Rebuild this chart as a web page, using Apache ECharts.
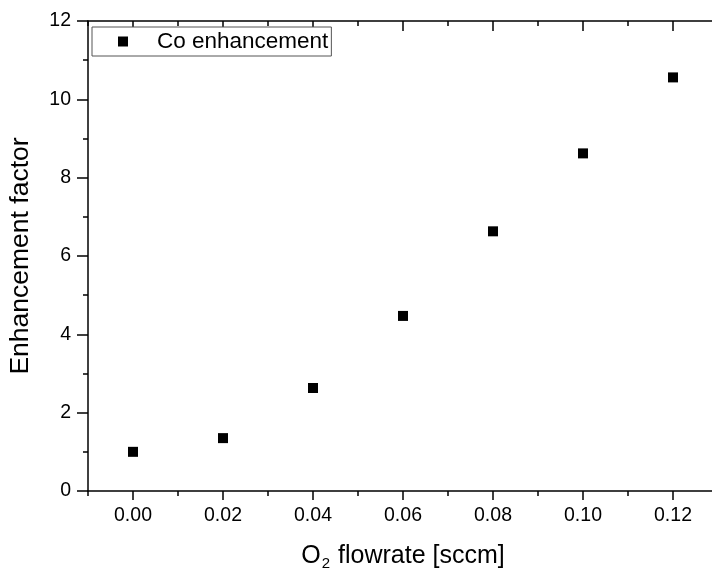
<!DOCTYPE html>
<html>
<head>
<meta charset="utf-8">
<script src="https://cdn.jsdelivr.net/npm/echarts@6/dist/echarts.min.js"></script>
<style>
html,body{margin:0;padding:0;background:#fff;}
#chart{width:712px;height:568px;}
</style>
</head>
<body>
<div id="chart"></div>
<script>
// Data
const flowrates = [0.00, 0.02, 0.04, 0.06, 0.08, 0.10, 0.12];
const enhancement = [1.00, 1.35, 2.63, 4.47, 6.63, 8.62, 10.56];
const xMajorTicks = [0.00, 0.02, 0.04, 0.06, 0.08, 0.10, 0.12];
const seriesName = 'Co enhancement';

const FONT = '"Liberation Sans", Arial, sans-serif';
const points = flowrates.map((x, i) => [x, enhancement[i]]);

const chart = echarts.init(document.getElementById('chart'), null, {renderer: 'canvas'});

const lineStyle = {color: '#000', width: 1.5};
const xBase = {
  type: 'value', gridIndex: 0, min: -0.01, max: 0.13,
  splitLine: {show: false}
};

chart.setOption({
  animation: false,
  backgroundColor: '#fff',
  grid: {left: 88, top: 21, right: -6, bottom: 77, containLabel: false, outerBoundsMode: 'none'},
  legend: {
    show: true,
    left: 92, top: 27,
    data: [seriesName],
    icon: 'rect', itemWidth: 10, itemHeight: 10,
    backgroundColor: '#fff',
    borderColor: '#555', borderWidth: 1, borderRadius: 0,
    padding: [3, 3, 3, 26],
    formatter: function (n) { return '{a|' + n + '}'; },
    textStyle: {
      fontFamily: FONT, fontSize: 22.5, color: '#000',
      rich: {a: {fontFamily: FONT, fontSize: 22.5, color: '#000', padding: [0, 0, 0, 24]}}
    },
    z: 10
  },
  xAxis: [
    Object.assign({}, xBase, {
      position: 'bottom', interval: 0.01,
      axisLine: {show: true, onZero: false, lineStyle: lineStyle},
      axisTick: {show: true, inside: false, length: 5, lineStyle: lineStyle},
      axisLabel: {
        show: true, customValues: xMajorTicks, margin: 15,
        fontFamily: FONT, fontSize: 19.5, color: '#000',
        formatter: v => v.toFixed(2)
      },
      name: '{a|O}{b|2}{a| flowrate [sccm]}',
      nameLocation: 'middle', nameGap: 50,
      nameTextStyle: {
        fontFamily: FONT, fontSize: 25, color: '#000',
        rich: {
          a: {fontFamily: FONT, fontSize: 25, color: '#000'},
          b: {fontFamily: FONT, fontSize: 15, color: '#000', padding: [15, 1, 0, 1]}
        }
      }
    }),
    Object.assign({}, xBase, {
      position: 'bottom', interval: 0.01,
      axisLine: {show: false, onZero: false},
      axisTick: {show: true, inside: false, length: 9, customValues: xMajorTicks, lineStyle: lineStyle},
      axisLabel: {show: false}
    }),
    Object.assign({}, xBase, {
      position: 'top', interval: 0.01,
      axisLine: {show: true, onZero: false, lineStyle: lineStyle},
      axisTick: {show: true, inside: true, length: 5, lineStyle: lineStyle},
      axisLabel: {show: false}
    }),
    Object.assign({}, xBase, {
      position: 'top', interval: 0.01,
      axisLine: {show: false, onZero: false},
      axisTick: {show: true, inside: true, length: 10, customValues: xMajorTicks, lineStyle: lineStyle},
      axisLabel: {show: false}
    })
  ],
  yAxis: [{
    type: 'value', min: 0, max: 12, interval: 2,
    position: 'left',
    axisLine: {show: true, onZero: false, lineStyle: lineStyle},
    axisTick: {show: true, inside: false, length: 11, lineStyle: lineStyle},
    minorTick: {show: true, splitNumber: 2, length: 5, lineStyle: lineStyle},
    splitLine: {show: false},
    minorSplitLine: {show: false},
    axisLabel: {margin: 17, fontFamily: FONT, fontSize: 19.5, color: '#000'},
    name: 'Enhancement factor',
    nameLocation: 'middle', nameGap: 54,
    nameTextStyle: {fontFamily: FONT, fontSize: 26.5, color: '#000'}
  }],
  series: [{
    name: seriesName,
    type: 'scatter',
    xAxisIndex: 0, yAxisIndex: 0,
    symbol: 'rect', symbolSize: 10,
    itemStyle: {color: '#000', opacity: 1},
    data: points,
    z: 5
  }]
});
</script>
</body>
</html>
